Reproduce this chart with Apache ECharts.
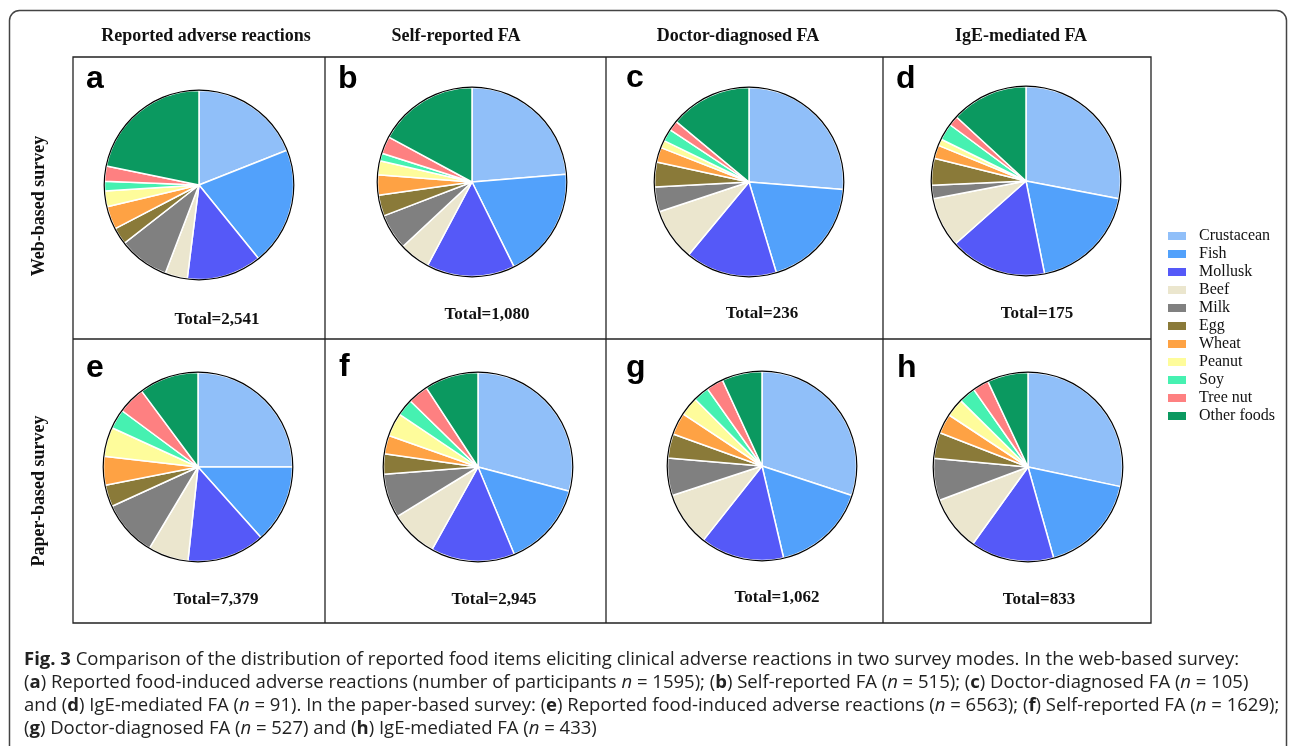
<!DOCTYPE html>
<html>
<head>
<meta charset="utf-8">
<script src="https://cdn.jsdelivr.net/npm/echarts@6/dist/echarts.min.js"></script>
<style>
html, body { margin: 0; padding: 0; background: #fff; }
#main { width: 1295px; height: 746px; }
</style>
</head>
<body>
<div id="main"></div>
<script>
// food items, in legend / slice order
var foods = ['Crustacean', 'Fish', 'Mollusk', 'Beef', 'Milk', 'Egg', 'Wheat', 'Peanut', 'Soy', 'Tree nut', 'Other foods'];
var colors = ['#90BFF9', '#52A1FB', '#5559F8', '#EBE6CE', '#808080', '#8A7A39', '#FEA244', '#FEFC9B', '#46F1B1', '#FE8081', '#0B9960'];

// counts per food item (same order as foods)
var webReported = [483, 512, 326, 97, 220, 74, 100, 68, 42, 66, 553];
var webSelf = [256, 205, 163, 57, 66, 39, 37, 26, 14, 32, 185];
var webDoctor = [62, 45, 37, 21, 10, 10, 6, 3, 5, 4, 33];
var webIgE = [49, 33, 29, 15, 4, 8, 4, 2, 5, 3, 23];
var paperReported = [1845, 988, 982, 508, 709, 275, 361, 369, 246, 346, 750];
var paperSelf = [858, 430, 423, 240, 222, 102, 93, 118, 85, 103, 271];
var paperDoctor = [319, 173, 152, 99, 68, 44, 40, 34, 29, 31, 73];
var paperIgE = [236, 144, 119, 78, 60, 37, 28, 26, 24, 23, 58];

var columnTitles = ['Reported adverse reactions', 'Self-reported FA', 'Doctor-diagnosed FA', 'IgE-mediated FA'];
var rowTitles = ['Web-based survey', 'Paper-based survey'];
var panelLetters = ['a', 'b', 'c', 'd', 'e', 'f', 'g', 'h'];

// layout of each panel: pie centre, letter pos, total label pos
var panels = [
  { data: webReported, cx: 199, cy: 185, lx: 86, ly: 79, tx: 217, ty: 320 },
  { data: webSelf, cx: 472, cy: 182, lx: 338, ly: 79, tx: 487, ty: 315 },
  { data: webDoctor, cx: 749, cy: 182, lx: 626, ly: 78, tx: 762, ty: 314 },
  { data: webIgE, cx: 1026, cy: 181, lx: 896, ly: 79, tx: 1037, ty: 314 },
  { data: paperReported, cx: 198, cy: 467, lx: 86, ly: 368, tx: 216, ty: 600 },
  { data: paperSelf, cx: 478, cy: 467, lx: 339, ly: 367, tx: 494, ty: 600 },
  { data: paperDoctor, cx: 762, cy: 466, lx: 626, ly: 368, tx: 777, ty: 598 },
  { data: paperIgE, cx: 1028, cy: 467, lx: 897, ly: 368, tx: 1039, ty: 600 }
];
var R = 94.5;
var headX = [206, 456, 738, 1021];
var gridX = [73, 325, 606, 883, 1151];
var gridY = [57, 339, 623];

var serif = '"Liberation Serif", "DejaVu Serif", serif';
var sans = '"Liberation Sans", Arial, sans-serif';
var capFont = '"Open Sans", sans-serif';

function fmt(n) {
  return n.toString().replace(/\B(?=(\d{3})+(?!\d))/g, ',');
}

var series = [];
var graphic = [];

// outer rounded frame
graphic.push({
  type: 'rect', shape: { x: 9.5, y: 10.5, width: 1277, height: 760, r: 10 },
  style: { fill: 'none', stroke: '#444', lineWidth: 1.5 }, silent: true
});

// panel grid
graphic.push({
  type: 'rect', shape: { x: gridX[0], y: gridY[0], width: gridX[4] - gridX[0], height: gridY[2] - gridY[0] },
  style: { fill: 'none', stroke: '#222', lineWidth: 1.3 }, silent: true
});
for (var i = 1; i < 4; i++) {
  graphic.push({ type: 'line', shape: { x1: gridX[i], y1: gridY[0], x2: gridX[i], y2: gridY[2] },
    style: { stroke: '#222', lineWidth: 1.3 }, silent: true });
}
graphic.push({ type: 'line', shape: { x1: gridX[0], y1: gridY[1], x2: gridX[4], y2: gridY[1] },
  style: { stroke: '#222', lineWidth: 1.3 }, silent: true });

columnTitles.forEach(function (t, i) {
  graphic.push({ type: 'text', x: headX[i], y: 36,
    style: { text: t, fontFamily: serif, fontWeight: 'bold', fontSize: 18, fill: '#111', align: 'center', verticalAlign: 'middle' } });
});
rowTitles.forEach(function (t, i) {
  graphic.push({ type: 'text', x: 39, y: i === 0 ? 206 : 491, rotation: Math.PI / 2,
    style: { text: t, fontFamily: serif, fontWeight: 'bold', fontSize: 18, fill: '#111', align: 'center', verticalAlign: 'middle' } });
});

panels.forEach(function (p, k) {
  series.push({
    type: 'pie',
    center: [p.cx, p.cy],
    radius: R,
    startAngle: 90,
    clockwise: true,
    silent: true,
    label: { show: false },
    labelLine: { show: false },
    itemStyle: { borderColor: '#fff', borderWidth: 1.5 },
    data: p.data.map(function (v, j) {
      return { name: foods[j], value: v, itemStyle: { color: colors[j] } };
    })
  });
  // thin black outline round the pie
  series.push({
    type: 'pie',
    center: [p.cx, p.cy],
    radius: [R - 0.3, R + 0.9],
    silent: true,
    label: { show: false },
    labelLine: { show: false },
    itemStyle: { color: '#000' },
    data: [{ name: '', value: 1 }]
  });
  var total = p.data.reduce(function (a, b) { return a + b; }, 0);
  graphic.push({ type: 'text', x: p.lx, y: p.ly,
    style: { text: panelLetters[k], fontFamily: sans, fontWeight: 'bold', fontSize: 32, fill: '#000', align: 'left', verticalAlign: 'middle' } });
  graphic.push({ type: 'text', x: p.tx, y: p.ty,
    style: { text: 'Total=' + fmt(total), fontFamily: serif, fontWeight: 'bold', fontSize: 17, fill: '#111', align: 'center', verticalAlign: 'middle' } });
});

// caption
var caption = [
  '{b|Fig. 3} Comparison of the distribution of reported food items eliciting clinical adverse reactions in two survey modes. In the web-based survey:',
  '({b|a}) Reported food-induced adverse reactions (number of participants {i|n} = 1595); ({b|b}) Self-reported FA ({i|n} = 515); ({b|c}) Doctor-diagnosed FA ({i|n} = 105)',
  'and ({b|d}) IgE-mediated FA ({i|n} = 91). In the paper-based survey: ({b|e}) Reported food-induced adverse reactions ({i|n} = 6563); ({b|f}) Self-reported FA ({i|n} = 1629);',
  '({b|g}) Doctor-diagnosed FA ({i|n} = 527) and ({b|h}) IgE-mediated FA ({i|n} = 433)'
];
var capY = [660, 683, 706, 729];
var capSize = 18.5;
caption.forEach(function (line, i) {
  graphic.push({ type: 'text', x: 24, y: capY[i],
    style: {
      text: line, fontFamily: capFont, fontSize: capSize, fill: '#222', align: 'left', verticalAlign: 'middle',
      rich: {
        b: { fontFamily: capFont, fontSize: capSize, fontWeight: 'bold', fill: '#222' },
        i: { fontFamily: capFont, fontSize: capSize, fontStyle: 'italic', fill: '#222' }
      }
    } });
});

var chart = echarts.init(document.getElementById('main'));
chart.setOption({
  animation: false,
  legend: {
    data: foods,
    orient: 'vertical',
    left: 1161,
    top: 223,
    itemWidth: 20,
    itemHeight: 10,
    itemGap: 2,
    icon: 'rect',
    selectedMode: false,
    textStyle: { fontFamily: serif, fontSize: 16, color: '#111', lineHeight: 16, padding: [0, 0, 0, 7] }
  },
  color: colors,
  series: series,
  graphic: graphic
});
window.onresize = function () { chart.resize(); };
</script>
</body>
</html>
